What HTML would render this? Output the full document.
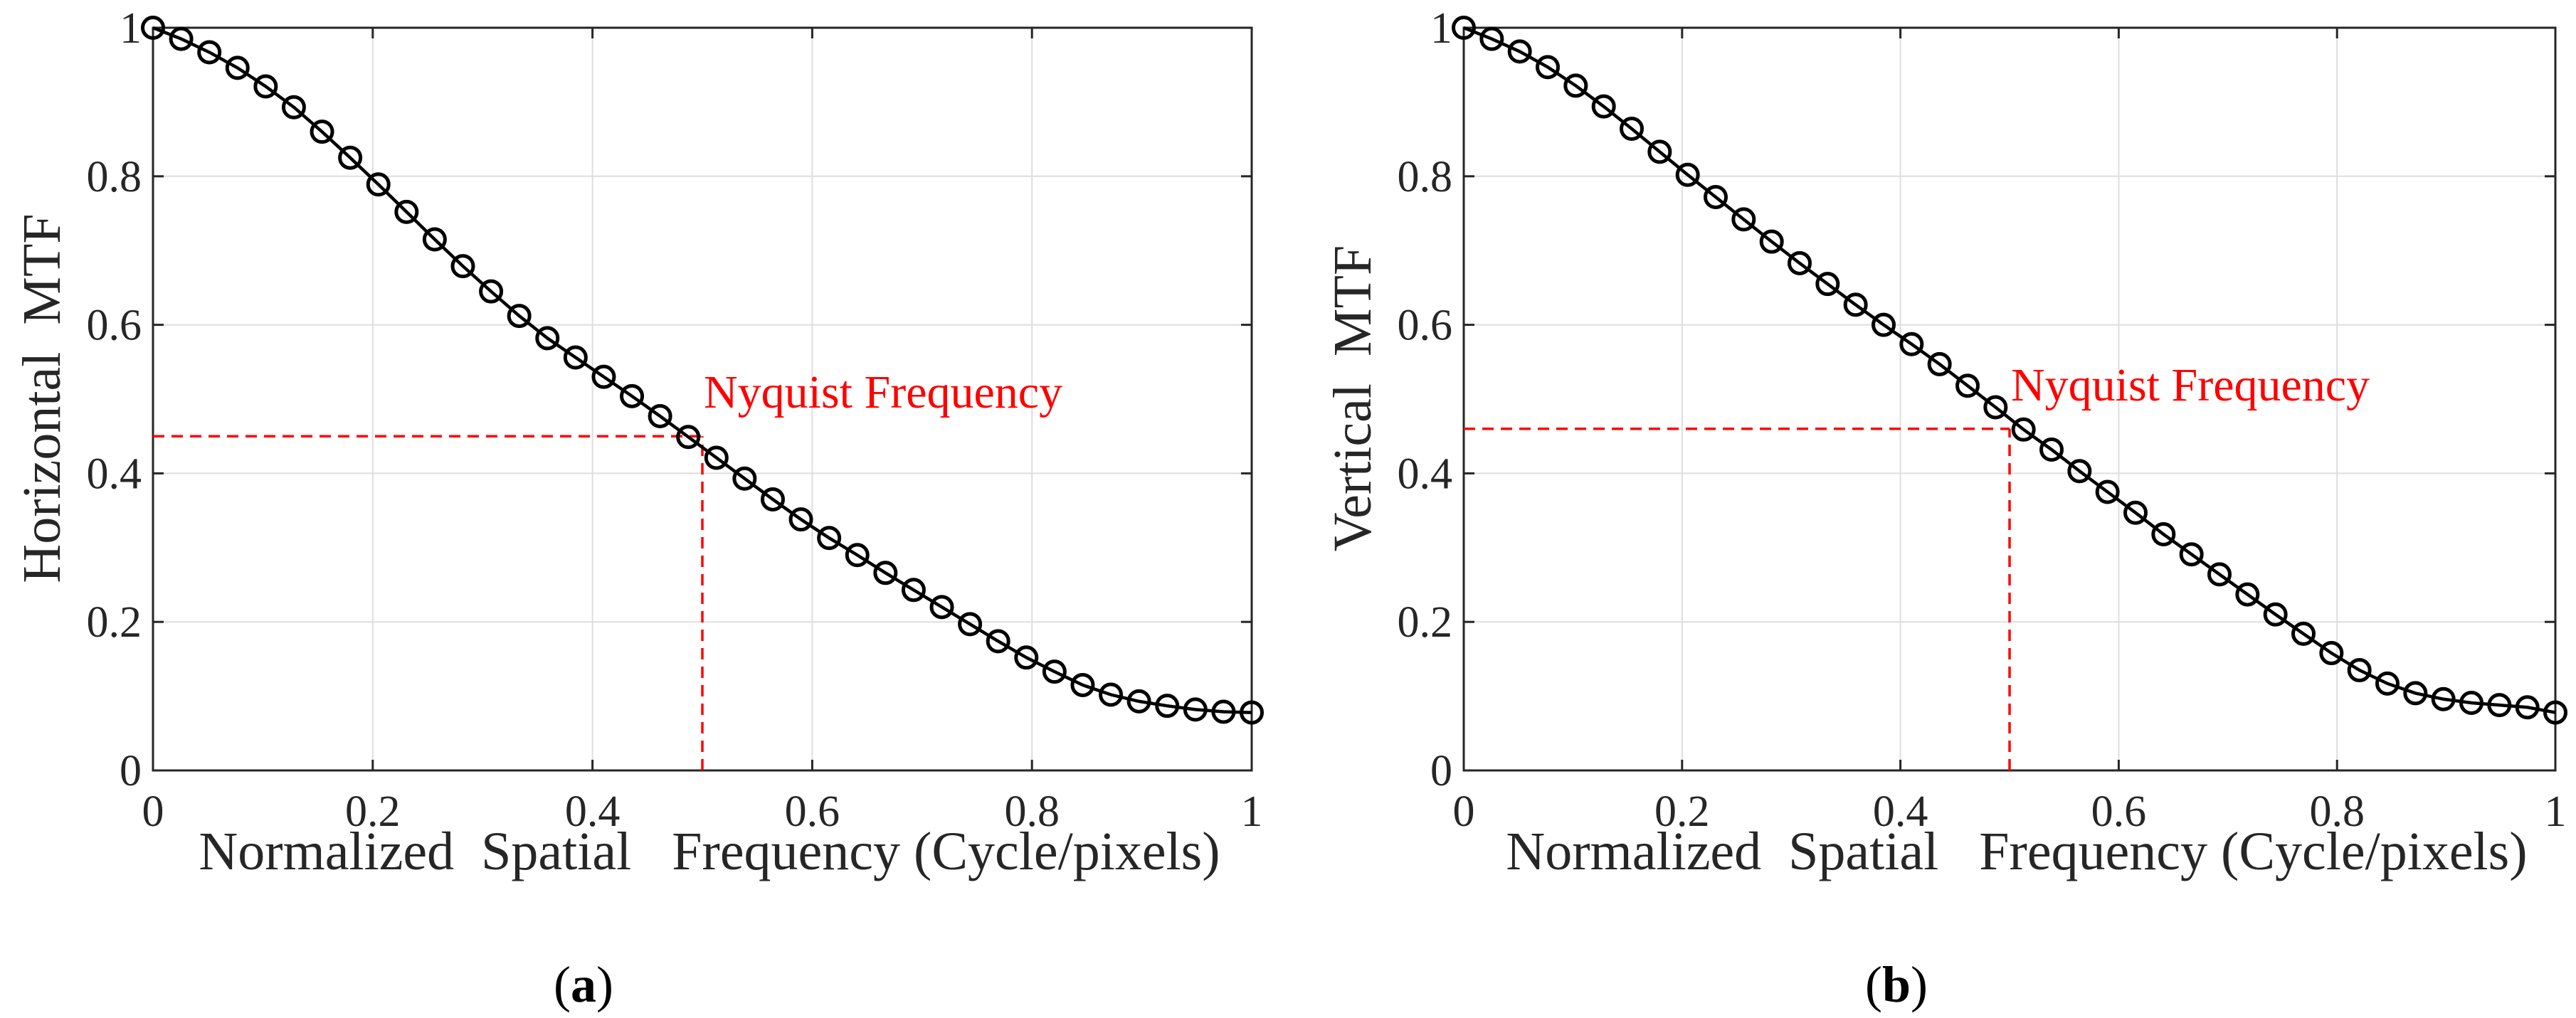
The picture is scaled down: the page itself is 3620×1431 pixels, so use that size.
<!DOCTYPE html>
<html><head><meta charset="utf-8"><style>
html,body{margin:0;padding:0;background:#fff;}
svg{display:block;font-family:"Liberation Serif",serif;}
</style></head><body>
<svg id="fig" width="3620" height="1431" viewBox="0 0 3620 1431" xmlns="http://www.w3.org/2000/svg"></svg>
<script>
const freqCount = 40;
const hValues = [1,.985,.967,.946,.921,.893,.860,.825,.789,.752,.715,.679,.645,.612,.582,.556,.530,.504,.477,.449,.421,.393,.365,.338,.313,.290,.266,.243,.220,.197,.174,.152,.133,.115,.102,.093,.087,.082,.079,.078];
const vValues = [1,.985,.968,.947,.922,.894,.864,.833,.802,.772,.742,.712,.683,.655,.627,.600,.574,.547,.518,.489,.459,.432,.403,.375,.347,.318,.291,.264,.237,.210,.184,.158,.135,.117,.104,.096,.091,.088,.085,.078];
const tickVals = [0,0.2,0.4,0.6,0.8,1];
const tickLabels = ["0","0.2","0.4","0.6","0.8","1"];
const nyqX = 0.5;
const hNyqY = 0.45;
const vNyqY = 0.46;

const NS="http://www.w3.org/2000/svg";
const svg=document.getElementById('fig');
function mk(tag,attrs,parent){const e=document.createElementNS(NS,tag);for(const k in attrs)e.setAttribute(k,attrs[k]);(parent||svg).appendChild(e);return e;}

function panel(opt){
  const g=mk('g',{});
  
  
  const x0=opt.x0,x1=opt.x1,y0=1083,y1=39;
  const sx=v=>x0+v*(x1-x0), sy=v=>y0-v*(y0-y1);
  tickVals.forEach((t,i)=>{
    if(t>0&&t<1){
      const gx=mk('line',{x1:sx(t),x2:sx(t),y1:y0,y2:y1,stroke:'#dedede','stroke-width':2},g);
      
      
      const gy=mk('line',{x1:x0,x2:x1,y1:sy(t),y2:sy(t),stroke:'#dedede','stroke-width':2},g);
      
      
    }
  });
  const box=mk('rect',{x:x0,y:y1,width:x1-x0,height:y0-y1,fill:'none',stroke:'#262626','stroke-width':3},g);
  
  
  tickVals.forEach((t,i)=>{
    mk('line',{x1:sx(t),x2:sx(t),y1:y0,y2:y0-15,stroke:'#262626','stroke-width':3},g);
    mk('line',{x1:sx(t),x2:sx(t),y1:y1,y2:y1+15,stroke:'#262626','stroke-width':3},g);
    mk('line',{x1:x0,x2:x0+15,y1:sy(t),y2:sy(t),stroke:'#262626','stroke-width':3},g);
    mk('line',{x1:x1,x2:x1-15,y1:sy(t),y2:sy(t),stroke:'#262626','stroke-width':3},g);
    const xl=mk('text',{x:sx(t),y:y0+78,'text-anchor':'middle','font-size':62,fill:'#262626'},g);
    xl.textContent=tickLabels[i];
    
    
    const yl=mk('text',{x:x0-16,y:sy(t)+21,'text-anchor':'end','font-size':62,fill:'#262626'},g);
    yl.textContent=tickLabels[i];
    
    
  });
  const dh=mk('line',{x1:x0,x2:sx(nyqX),y1:sy(opt.nyq),y2:sy(opt.nyq),stroke:'#ff0000','stroke-width':3.5,'stroke-dasharray':'16 10'},g);
  
  
  const dv=mk('line',{x1:sx(nyqX),x2:sx(nyqX),y1:y0,y2:sy(opt.nyq),stroke:'#ff0000','stroke-width':3.5,'stroke-dasharray':'16 10'},g);
  
  
  const nt=mk('text',{x:sx(nyqX)+2,y:sy(opt.nyq)-40,'font-size':66,fill:'#ff0000'},g);
  nt.textContent='Nyquist Frequency';
  
  
  const vals=opt.values;
  const pts=vals.map((v,i)=>sx(i/(freqCount-1))+','+sy(v)).join(' ');
  const pl=mk('polyline',{points:pts,fill:'none',stroke:'#000','stroke-width':4.5},g);
  
  
  vals.forEach((v,i)=>{
    const c=mk('circle',{cx:sx(i/(freqCount-1)),cy:sy(v),r:14.5,fill:'none',stroke:'#000','stroke-width':5},g);
    
    
  });
  const xt=mk('text',{x:(x0+x1)/2+10,y:1222,'text-anchor':'middle','font-size':76,fill:'#262626'},g);
  xt.textContent='Normalized\u00a0\u00a0Spatial\u00a0\u00a0 Frequency (Cycle/pixels)';
  
  
  const yt=mk('text',{x:0,y:0,'text-anchor':'middle','font-size':76,fill:'#262626',transform:`translate(${x0-131},560) rotate(-90)`},g);
  yt.textContent=opt.ylabel;
  
  
  const cap=mk('text',{x:opt.capX,y:1408,'text-anchor':'middle','font-size':72,fill:'#000'},g);
  cap.innerHTML='(<tspan font-weight="bold">'+opt.cap+'</tspan>)';
  
  
}
panel({name:'horizontal-mtf-panel',x0:215,x1:1759,values:hValues,nyq:hNyqY,ylabel:'Horizontal\u00a0\u00a0MTF',cap:'a',capX:820});
panel({name:'vertical-mtf-panel',x0:2057,x1:3591,values:vValues,nyq:vNyqY,ylabel:'Vertical\u00a0\u00a0MTF',cap:'b',capX:2665});
</script>
</body></html>
